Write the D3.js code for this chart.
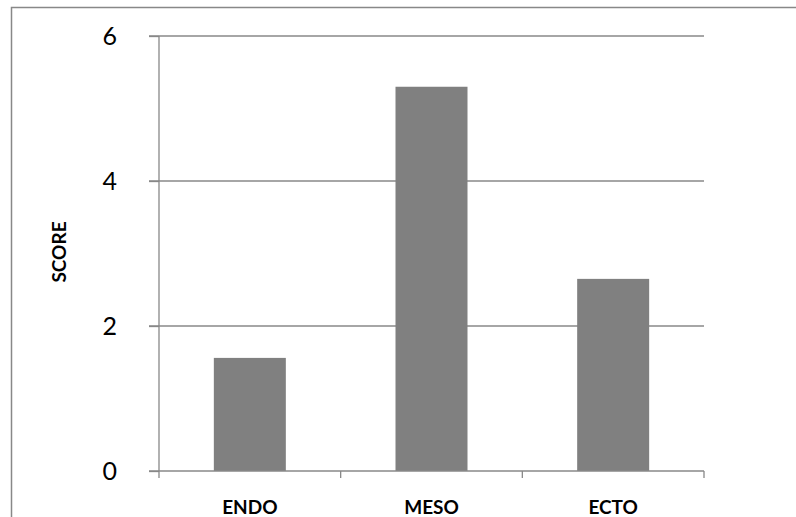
<!DOCTYPE html>
<html><head><meta charset="utf-8">
<script src="https://cdn.jsdelivr.net/npm/d3@7"></script>
<style>body{margin:0;background:#fff}svg{display:block}</style>
</head><body>
<svg id="c" width="796" height="517"></svg>
<script>
const categories = ["ENDO", "MESO", "ECTO"];
const scores = [1.56, 5.30, 2.65];
const yTicks = [0, 2, 4, 6];

const svg = d3.select("#c");
const font = "Lato, 'Open Sans', sans-serif";
const L = 159, R = 704, T = 36, B = 471;

svg.append("rect").attr("x", 11.5).attr("y", 7.5).attr("width", 800).attr("height", 520)
  .attr("fill", "none").attr("stroke", "#888").attr("stroke-width", 1.5);

const xb = d3.scaleBand().domain(categories).range([L, R]);
const y = d3.scaleLinear().domain([0, 6]).range([B, T]);

// gridlines
svg.append("g").selectAll("line").data(yTicks.filter(d => d > 0)).join("line")
  .attr("x1", L - 10).attr("x2", R).attr("y1", d => y(d)).attr("y2", d => y(d))
  .attr("stroke", "#888").attr("stroke-width", 1.3);

// bars
svg.append("g").selectAll("rect").data(categories).join("rect")
  .attr("x", (d) => xb(d) + xb.bandwidth() / 2 - 36)
  .attr("width", 72)
  .attr("y", (d, i) => y(scores[i]))
  .attr("height", (d, i) => B - y(scores[i]))
  .attr("fill", "#808080");

// y axis
const ya = svg.append("g").attr("transform", `translate(${L},0)`)
  .call(d3.axisLeft(y).tickValues(yTicks).tickSize(10).tickPadding(32).tickFormat(d3.format("d")));
ya.select(".domain").attr("stroke", "#888").attr("stroke-width", 1.3).attr("d", `M0,${T}V${B}`);
ya.selectAll(".tick line").attr("stroke", "#888").attr("stroke-width", 1.3);
ya.selectAll(".tick text").attr("font-family", font).attr("font-size", 25).attr("fill", "#000");

// x axis
const xa = svg.append("g").attr("transform", `translate(0,${B})`)
  .call(d3.axisBottom(xb).tickSize(0).tickPadding(0));
xa.select(".domain").attr("stroke", "#888").attr("stroke-width", 1.3).attr("d", `M${L - 10},0H${R}`);
xa.selectAll(".tick text").attr("font-family", font).attr("font-size", 19).attr("font-weight", "bold")
  .attr("fill", "#000").attr("dy", null).attr("y", 43);
// category boundary ticks
const bounds = categories.map(d => xb(d)).concat([R]);
svg.append("g").selectAll("line").data(bounds).join("line")
  .attr("x1", d => d).attr("x2", d => d).attr("y1", B).attr("y2", B + 7)
  .attr("stroke", "#888").attr("stroke-width", 1.3);

// y title
svg.append("text").attr("transform", "translate(66,252) rotate(-90)")
  .attr("text-anchor", "middle").attr("font-family", font).attr("font-size", 19)
  .attr("font-weight", "bold").text("SCORE");
</script>
</body></html>
